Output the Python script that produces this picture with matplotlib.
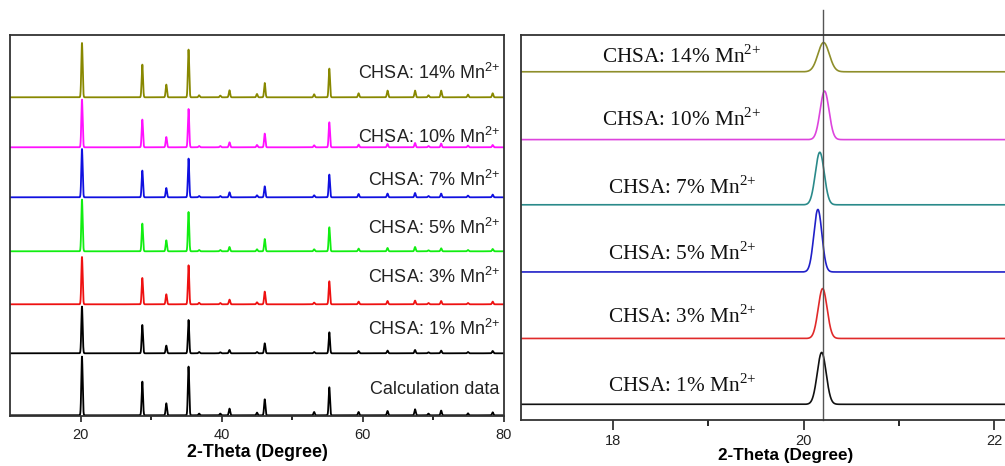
import numpy as np
import matplotlib
matplotlib.use("Agg")
import matplotlib.pyplot as plt

# ---- full scan, 10-80 deg ----
peak_pos = [20.2, 28.75, 32.15, 35.3, 36.8, 39.8, 41.1, 45.0, 46.1, 53.1,
            55.25, 59.4, 63.5, 67.4, 69.3, 71.1, 74.9, 78.4]

calc_int = [58.7, 33.7, 12.0, 48.7, 1.7, 1.7, 6.7, 2.7, 16.0, 3.3,
            28.0, 3.3, 4.3, 6.0, 1.7, 4.7, 2.0, 3.0]
mn1_int = [46.7, 28.3, 7.7, 33.3, 1.3, 1.0, 3.3, 1.3, 10.0, 1.3,
           21.0, 2.3, 2.7, 3.3, 1.0, 2.7, 1.3, 2.3]
mn3_int = [47.3, 26.3, 10.0, 39.0, 1.5, 1.3, 4.7, 2.0, 12.7, 1.7,
           23.0, 2.7, 3.3, 3.7, 1.3, 3.3, 1.3, 2.7]
mn5_int = [51.7, 27.7, 11.0, 39.3, 1.3, 1.3, 4.3, 2.0, 12.3, 2.0,
           24.0, 2.7, 3.3, 4.3, 1.0, 3.0, 1.3, 2.3]
mn7_int = [48.3, 26.7, 9.3, 38.7, 1.3, 1.3, 5.0, 2.0, 11.0, 2.0,
           22.7, 3.3, 3.7, 4.3, 1.3, 3.7, 1.7, 2.7]
mn10_int = [47.7, 27.7, 10.3, 38.3, 1.3, 1.3, 5.0, 2.3, 13.7, 2.0,
            25.0, 2.7, 3.3, 4.3, 1.3, 3.7, 1.7, 2.3]
mn14_int = [54.3, 32.7, 12.7, 47.7, 2.0, 1.7, 7.0, 3.3, 14.3, 3.0,
            28.7, 4.0, 6.7, 6.7, 2.0, 6.7, 2.7, 4.0]

SUP = "$^{\\mathregular{2{+}}}$"

full_names = ["Calculation data", "CHSA: 1% Mn" + SUP, "CHSA: 3% Mn" + SUP,
              "CHSA: 5% Mn" + SUP, "CHSA: 7% Mn" + SUP, "CHSA: 10% Mn" + SUP,
              "CHSA: 14% Mn" + SUP]
full_offsets = [0, 62, 111, 164, 218, 268, 318]
full_label_y = [21, 80, 132.6, 181, 229.6, 272, 336.3]
full_colors = ["#000000", "#000000", "#ee1111", "#11ee11", "#1010e0", "#ff11ff", "#888800"]

# ---- zoom on the main reflection near 20 deg ----
zoom_names = ["CHSA: 1% Mn" + SUP, "CHSA: 3% Mn" + SUP, "CHSA: 5% Mn" + SUP,
              "CHSA: 7% Mn" + SUP, "CHSA: 10% Mn" + SUP, "CHSA: 14% Mn" + SUP]
zoom_peak = [20.19, 20.20, 20.15, 20.17, 20.22, 20.21]
zoom_height = [0.78, 0.75, 0.94, 0.79, 0.73, 0.44]
zoom_fwhm = [0.11, 0.11, 0.10, 0.11, 0.11, 0.14]
zoom_offsets = [0, 0.99, 1.99, 3.0, 3.98, 5.0]
zoom_label_y = [0.19, 1.23, 2.18, 3.17, 4.19, 5.13]
zoom_colors = ["#111111", "#e02a2a", "#2020c8", "#2a8a8a", "#dd44dd", "#8e8e2a"]
ref_line = 20.2


def profile(x, pos, heights, fwhm):
    y = np.zeros_like(x)
    for p, h, w in zip(pos, heights, fwhm):
        s = w / 2.3548
        y += h * np.exp(-0.5 * ((x - p) / s) ** 2)
    return y


def styleAxis(ax, ticksize, major_len, minor_len, pad):
    ax.set_yticks([])
    ax.tick_params(axis="x", which="major", direction="out", length=major_len, width=1.2,
                   labelsize=ticksize, pad=pad, colors="#222222")
    ax.tick_params(axis="x", which="minor", direction="out", length=minor_len, width=1.2)
    for lab in ax.get_xticklabels():
        lab.set_family("Liberation Sans")
    for sp in ax.spines.values():
        sp.set_linewidth(1.3)
        sp.set_color("#333333")


def fullScan(ax):
    x = np.linspace(10, 80, 14001)
    series = [calc_int, mn1_int, mn3_int, mn5_int, mn7_int, mn10_int, mn14_int]
    for ints, off, col, name, ly in zip(series, full_offsets, full_colors, full_names, full_label_y):
        y = profile(x, peak_pos, ints, [0.22] * len(peak_pos)) + off
        ax.plot(x, y, color=col, lw=1.3)
        ax.text(79.4, ly, name, ha="right", va="baseline", fontsize=13,
                family="Liberation Sans", color="#222222")

    ax.set_xlim(10, 80)
    ax.set_ylim(-0.7, 380.3)
    ax.set_xticks([20, 40, 60, 80])
    ax.set_xticks([30, 50, 70], minor=True)
    styleAxis(ax, 10.5, 4, 3, 5)
    ax.set_xlabel("2-Theta (Degree)", fontsize=12.8, fontweight="bold",
                  family="Liberation Sans", labelpad=1)


def zoomScan(ax):
    x = np.linspace(17.0, 22.6, 5601)
    for i in range(len(zoom_names)):
        y = profile(x, [zoom_peak[i]], [zoom_height[i]], [zoom_fwhm[i]]) + zoom_offsets[i]
        ax.plot(x, y, color=zoom_colors[i], lw=1.2)
        ax.text(18.72, zoom_label_y[i], zoom_names[i], ha="center", va="baseline",
                fontsize=15.3, family="Liberation Serif", color="#111111")

    ax.set_xlim(17.03, 22.6)
    ax.set_ylim(-0.236, 5.553)
    # marker line through the reflection, running past the top of the frame
    ax.plot([ref_line, ref_line], [-0.236, 5.93], color="#555555", lw=1.0, clip_on=False)

    ax.set_xticks([18, 20, 22])
    ax.set_xticks([19, 21], minor=True)
    styleAxis(ax, 10.5, 7, 4, 3)
    ax.set_xlabel("2-Theta (Degree)", fontsize=12.3, fontweight="bold",
                  family="Liberation Sans", labelpad=0)


def main():
    fig = plt.figure(figsize=(10.05, 4.66), dpi=100)
    ax1 = fig.add_axes([0.00995, 0.1073, 0.4915, 0.8176])
    ax2 = fig.add_axes([0.5184, 0.0987, 0.5274, 0.8262])
    fullScan(ax1)
    zoomScan(ax2)
    fig.savefig("out.png", dpi=100)


if __name__ == "__main__":
    main()
